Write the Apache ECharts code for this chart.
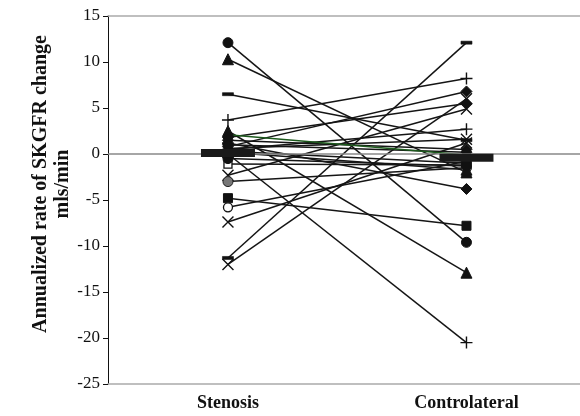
<!DOCTYPE html>
<html><head><meta charset="utf-8">
<script src="https://cdn.jsdelivr.net/npm/echarts@6/dist/echarts.min.js"></script>
<style>html,body{margin:0;padding:0;background:#fff}#c{width:580px;height:416px}</style>
</head><body><div id="c"></div>
<script>
const categories = ['Stenosis', 'Controlateral'];
const yTitle1 = 'Annualized rate of SKGFR change';
const yTitle2 = 'mls/min';
// paired values per patient (Stenosis -> Controlateral)
const stenosis =      [12.1, 10.3, 6.5, 3.7, 2.5, 1.2, 0.0, 0.5, -2.3, -1.1, -3.0, -4.8, -5.8, -7.4, -11.3, -12.0, 0.8, 1.8, 0.3, 0.6, 1.5, 0.2, -0.5, 1.0];
const controlateral = [-9.6, -2.0, 1.5, 8.2, -12.9, -3.8, -20.5, 2.7, 4.9, -1.2, -1.5, -7.8, -0.8, 1.2, 12.1, 6.0, 6.8, 5.5, -1.0, 1.6, 0.5, -1.7, -1.3, 0.2];
const symStenosis =      ['circle','triangle','dash','plus','triangle','diamond','plus','plus','cross','openrect','graycircle','rect','opencircle','cross','dash','cross','diamond','diamond','circle','cross','diamond','triangle','circle','diamond'];
const symControlateral = ['circle','triangle','dash','plus','triangle','diamond','plus','plus','cross','openrect','graycircle','rect','opencircle','cross','dash','cross','diamond','diamond','circle','cross','diamond','triangle','circle','diamond'];
const greenPair = [2.1, -0.1];
const medians = [0.1, -0.4];

const P = {
  plus: 'path://M0,5L10,5M5,0L5,10',
  cross: 'path://M0,0L10,10M10,0L0,10',
  dash: 'path://M0,0L10,0L10,3L0,3Z'
};
function sym(name){
  switch(name){
    case 'circle': return {symbol:'circle', symbolSize:10, itemStyle:{color:'#111', borderColor:'#111', borderWidth:1}};
    case 'graycircle': return {symbol:'circle', symbolSize:10, itemStyle:{color:'#777', borderColor:'#222', borderWidth:1}};
    case 'opencircle': return {symbol:'circle', symbolSize:9, itemStyle:{color:'#fff', borderColor:'#111', borderWidth:1.3}};
    case 'triangle': return {symbol:'triangle', symbolSize:11, itemStyle:{color:'#111', borderColor:'#111', borderWidth:1}};
    case 'diamond': return {symbol:'diamond', symbolSize:11, itemStyle:{color:'#111', borderColor:'#111', borderWidth:1}};
    case 'rect': return {symbol:'rect', symbolSize:9, itemStyle:{color:'#111', borderColor:'#111', borderWidth:1}};
    case 'openrect': return {symbol:'rect', symbolSize:8, itemStyle:{color:'#fff', borderColor:'#111', borderWidth:1.3}};
    case 'plus': return {symbol:P.plus, symbolSize:12, itemStyle:{color:'none', borderColor:'#111', borderWidth:1.4}};
    case 'cross': return {symbol:P.cross, symbolSize:11, itemStyle:{color:'none', borderColor:'#111', borderWidth:1.4}};
    case 'dash': return {symbol:P.dash, symbolSize:[11,3], itemStyle:{color:'#111', borderColor:'#111', borderWidth:0.5}};
  }
}
const series = [];
for (let i = 0; i < stenosis.length; i++) {
  const a = sym(symStenosis[i]), b = sym(symControlateral[i]);
  series.push({
    type:'line', silent:true, animation:false, z:3,
    lineStyle:{color:'#151515', width:1.5},
    data:[
      Object.assign({value:[0, stenosis[i]]}, a),
      Object.assign({value:[1, controlateral[i]]}, b)
    ]
  });
}
series.push({type:'line', silent:true, animation:false, z:3, lineStyle:{color:'#1d5a1d', width:1.5}, symbol:'none', data:[[0,greenPair[0]],[1,greenPair[1]]]});
series.push({type:'scatter', silent:true, animation:false, z:5, symbol:'rect', symbolSize:[54,8], itemStyle:{color:'#1a1a1a', opacity:1},
  data: medians.map((m,i)=>[i,m])});
series.push({type:'line', silent:true, animation:false, z:1, symbol:'none', data:[], markLine:{silent:true, symbol:'none', label:{show:false}, lineStyle:{color:'#888', width:1.5, type:'solid'}, data:[{yAxis:0}]}});

const chart = echarts.init(document.getElementById('c'), null, {renderer:'canvas'});
chart.setOption({
  animation:false,
  grid:{left:108, top:16, right:0, bottom:32, containLabel:false},
  xAxis:[{type:'value', min:-0.503, max:1.476, position:'bottom',
    axisLine:{onZero:false, lineStyle:{color:'#aaa', width:1.5}}, axisTick:{show:false}, splitLine:{show:false},
    axisLabel:{customValues:[0,1], formatter:(v)=>categories[Math.round(v)] || '', color:'#111', fontFamily:'Liberation Serif', fontWeight:'bold', fontSize:18, margin:10}},
    {type:'value', min:-0.503, max:1.476, position:'top', axisLine:{onZero:false, lineStyle:{color:'#aaa', width:1.5}}, axisTick:{show:false}, axisLabel:{show:false}, splitLine:{show:false}}],
  yAxis:{type:'value', min:-25, max:15, interval:5, position:'left',
    axisLine:{show:true, onZero:false, lineStyle:{color:'#111', width:1}},
    axisTick:{show:true, inside:false, length:5, lineStyle:{color:'#111'}},
    splitLine:{show:false},
    axisLabel:{color:'#111', fontFamily:'Liberation Serif', fontSize:17, margin:8}},
  graphic:[
    {type:'text', x:41, y:184, rotation:Math.PI/2, style:{text:yTitle1, fill:'#111', font:'bold 20px "Liberation Serif"', textAlign:'center', textVerticalAlign:'middle'}},
    {type:'text', x:63, y:184, rotation:Math.PI/2, style:{text:yTitle2, fill:'#111', font:'bold 20px "Liberation Serif"', textAlign:'center', textVerticalAlign:'middle'}}
  ],
  series:series
});
</script></body></html>
